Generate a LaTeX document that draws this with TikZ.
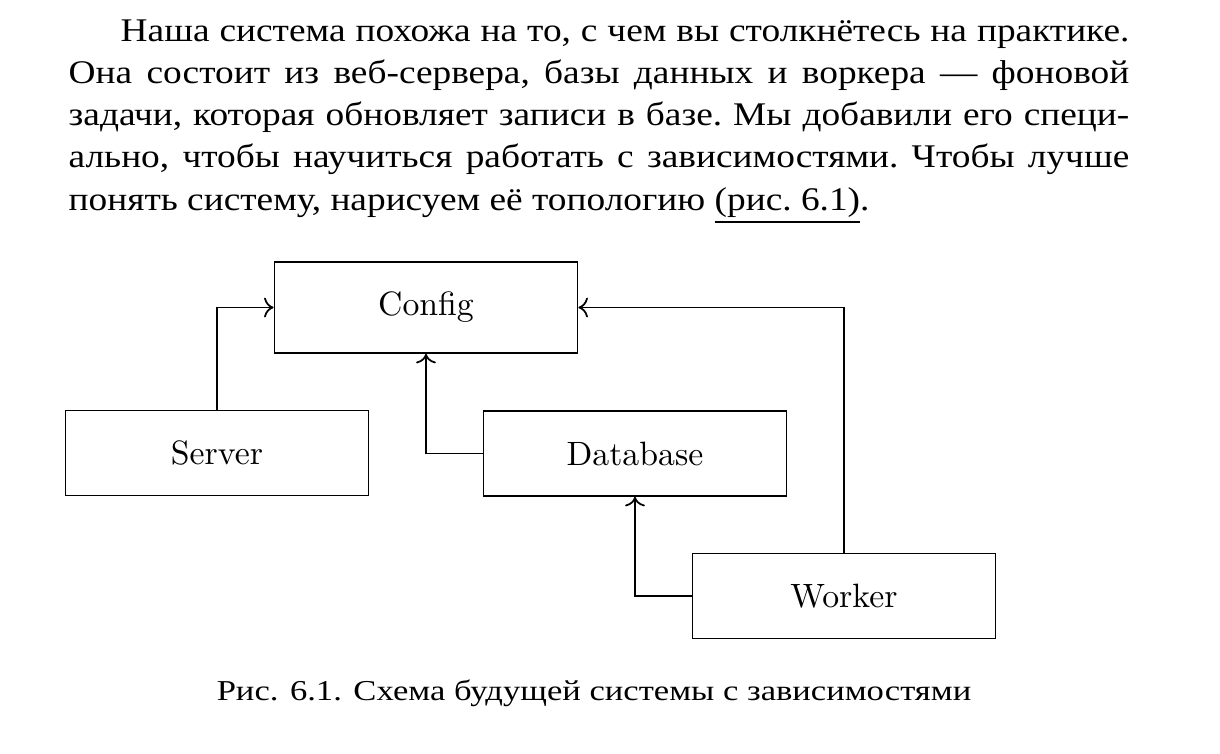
\documentclass[tikz,border=0pt]{standalone}
\usepackage{fontspec}
\newfontfamily\rufont[FakeStretch=1.13]{Liberation Serif}
\newfontfamily\capfont[FakeStretch=1.2]{Liberation Serif}
\usepackage{tikz}
\usetikzlibrary{arrows.meta,positioning}
\tikzset{
  block/.style={draw,line width=0.5pt,minimum width=3.03cm,minimum height=0.85cm,inner sep=0pt,font=\fontsize{9.6}{11}\selectfont},
  link/.style={->,line width=0.5pt},
}
\begin{document}
\begin{tikzpicture}[x=0.01cm,y=-0.01cm,>=To]
  \useasboundingbox (0,0) rectangle (1220,754);
  \node[anchor=base west,inner sep=0pt,text width=10.6cm,align=justify,font=\rufont\fontsize{9.4}{12.02}\selectfont] (para) at (68,41) {\hyphenpenalty=10000\frenchspacing
    \hspace*{0.52cm}Наша система похожа на то, с чем вы столкнётесь на практике.\linebreak
    Она состоит из веб-сервера, базы данных и воркера — фоновой\linebreak
    задачи, которая обновляет записи в базе. Мы добавили его специ-\linebreak
    ально, чтобы научиться работать с зависимостями. Чтобы лучше\linebreak
    понять систему, нарисуем её топологию \underline{(рис. 6.1)}.};
  \node[block,minimum height=0.91cm] (config) at (426,307.5) {Config};
  \node[block] (server) at (217,453) {Server};
  \node[block] (database) at (635,453.5) {Database};
  \node[block] (worker) at (844,596) {Worker};
  \draw[link] (server.north) |- (config.west);
  \draw[link] (database.west) -| (config.south);
  \draw[link] (worker.north) |- (config.east);
  \draw[link] (worker.west) -| (database.south);
  \node[anchor=base,inner sep=0pt,font=\capfont\fontsize{8.2}{10}\selectfont] (caption) at (594,700) {Рис. 6.1. Схема будущей системы с зависимостями};
\end{tikzpicture}
\end{document}
